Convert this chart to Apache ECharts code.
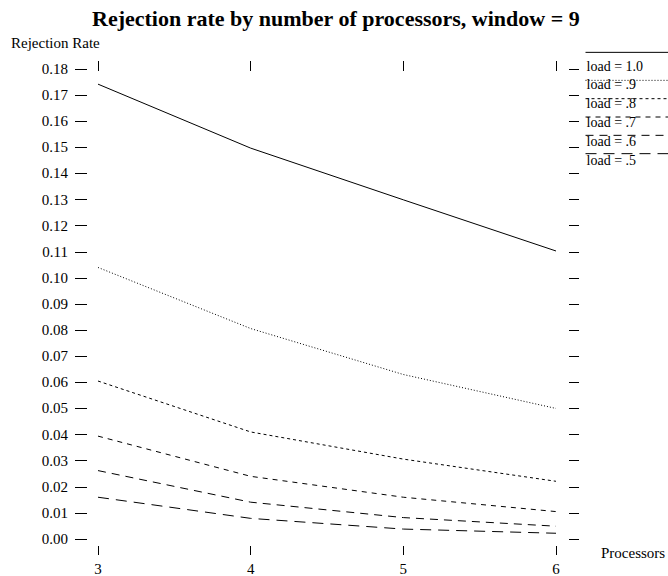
<!DOCTYPE html>
<html>
<head>
<meta charset="utf-8">
<title>Rejection rate by number of processors</title>
<script src="https://cdn.jsdelivr.net/npm/echarts/dist/echarts.min.js"></script>
<style>
  html, body { margin: 0; padding: 0; background: #fff; }
  #chart { width: 668px; height: 576px; }
</style>
</head>
<body>
<div id="chart"></div>
<script>
// x values (number of processors)
var processors = [3, 4, 5, 6];
var loadNames = ['load = 1.0', 'load = .9', 'load = .8', 'load = .7', 'load = .6', 'load = .5'];

// rejection rate, one array per load
var load10 = [0.1742, 0.1497, 0.1299, 0.1103];
var load09 = [0.1040, 0.0806, 0.0630, 0.0500];
var load08 = [0.0605, 0.0410, 0.0306, 0.0221];
var load07 = [0.0394, 0.0240, 0.0160, 0.0105];
var load06 = [0.0262, 0.0141, 0.0082, 0.0049];
var load05 = [0.0160, 0.0079, 0.0038, 0.0022];

var allLoads = [load10, load09, load08, load07, load06, load05];
var dashes = ['solid', [1, 2], [3, 3], [5, 5], [8, 6], [11, 7]];

var FONT = 'Liberation Serif';

var chart = echarts.init(document.getElementById('chart'), null, { renderer: 'svg' });

var series = allLoads.map(function (vals, k) {
  return {
    name: loadNames[k],
    type: 'line',
    xAxisIndex: 0,
    yAxisIndex: 0,
    symbol: 'none',
    silent: true,
    lineStyle: { color: '#000', width: 1, type: dashes[k] },
    data: processors.map(function (p, i) { return [p, vals[i]]; })
  };
});

var tick = { color: '#000', width: 1, type: 'solid' };

// the key is split in three: line sample for 1.0, line samples for the rest,
// and the labels, so the samples can sit on top of the text like the original
var sampleLegend = {
  orient: 'vertical',
  left: 585,
  padding: 0,
  itemWidth: 90,
  itemHeight: 18.7,
  selectedMode: false,
  itemStyle: { opacity: 0 },
  lineStyle: { width: 1 },
  formatter: function () { return ''; },
  textStyle: { fontSize: 1 }
};

var option = {
  animation: false,
  backgroundColor: '#fff',
  title: [
    {
      text: 'Rejection rate by number of processors, window = 9',
      left: 92, top: 7, padding: 0,
      textStyle: { fontFamily: FONT, fontWeight: 'bold', fontSize: 22, color: '#000' }
    },
    {
      text: 'Rejection Rate',
      left: 11, top: 35, padding: 0,
      textStyle: { fontFamily: FONT, fontWeight: 'normal', fontSize: 15, color: '#000' }
    },
    {
      text: 'Processors',
      left: 601, top: 545, padding: 0,
      textStyle: { fontFamily: FONT, fontWeight: 'normal', fontSize: 15, color: '#000' }
    }
  ],
  legend: [
    Object.assign({}, sampleLegend, {
      top: 43, itemGap: 0,
      data: loadNames.slice(0, 1)
    }),
    Object.assign({}, sampleLegend, {
      top: 71, itemGap: 1.5,
      data: loadNames.slice(1)
    }),
    {
      orient: 'vertical',
      left: 576,
      top: 59,
      padding: 0,
      itemWidth: 0,
      itemHeight: 14,
      itemGap: 4.8,
      selectedMode: false,
      lineStyle: { opacity: 0 },
      itemStyle: { opacity: 0 },
      textStyle: { fontFamily: FONT, fontSize: 14, lineHeight: 14, color: '#000' },
      data: loadNames
    }
  ],
  grid: { left: 98, right: 112, top: 69, bottom: 35, containLabel: false },
  xAxis: [
    {
      type: 'value', position: 'bottom', offset: 7,
      min: 3, max: 6, interval: 1,
      axisLine: { show: false, onZero: false },
      axisTick: { show: true, length: 9, lineStyle: tick },
      axisLabel: { margin: 15, color: '#000', fontFamily: FONT, fontSize: 15 },
      splitLine: { show: false }
    },
    {
      type: 'value', position: 'top', offset: -2,
      min: 3, max: 6, interval: 1,
      axisLine: { show: false, onZero: false },
      axisTick: { show: true, length: 10, lineStyle: tick },
      axisLabel: { show: false },
      splitLine: { show: false }
    }
  ],
  yAxis: [
    {
      type: 'value', position: 'left', offset: 11,
      min: 0, max: 0.18, interval: 0.01,
      axisLine: { show: false, onZero: false },
      axisTick: { show: true, length: 12, lineStyle: tick },
      axisLabel: {
        margin: 19, color: '#000', fontFamily: FONT, fontSize: 15,
        formatter: function (v) { return v.toFixed(2); }
      },
      splitLine: { show: false }
    },
    {
      type: 'value', position: 'right', offset: 13,
      min: 0, max: 0.18, interval: 0.01,
      axisLine: { show: false, onZero: false },
      axisTick: { show: true, length: 10, lineStyle: tick },
      axisLabel: { show: false },
      splitLine: { show: false }
    }
  ],
  series: series
};

chart.setOption(option);
</script>
</body>
</html>
